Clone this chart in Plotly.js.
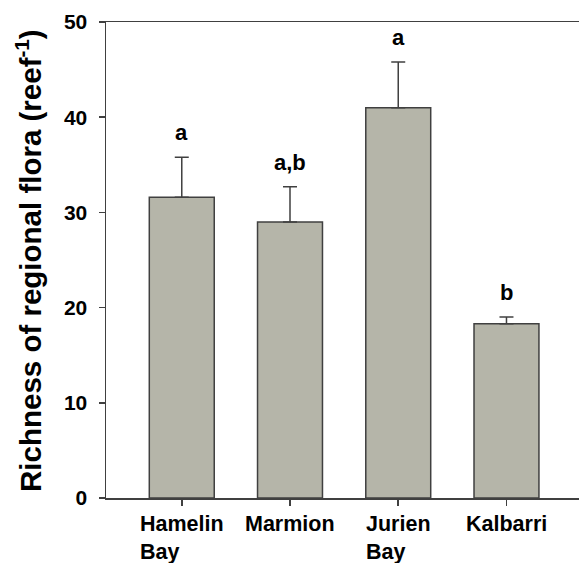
<!DOCTYPE html>
<html>
<head>
<meta charset="utf-8">
<script src="https://cdn.plot.ly/plotly-3.0.1.min.js"></script>
<style>html,body{margin:0;padding:0;background:#fff;}#chart{width:579px;height:563px;}</style>
</head>
<body>
<div id="chart"></div>
<script>
const sites = ["Hamelin<br>Bay", "Marmion", "Jurien<br>Bay", "Kalbarri"];
const richness = [31.6, 29.0, 41.0, 18.3];
const stdErr = [4.2, 3.7, 4.8, 0.7];
const sigLetters = ["a", "a,b", "a", "b"];
const yTicks = [0, 10, 20, 30, 40, 50];
const yTitle = "Richness of regional flora (reef<sup>-1</sup>)";

const dark = "#404040";
const font = "Liberation Sans, Arial, sans-serif";

const trace = {
  type: "bar",
  x: [0, 1, 2, 3],
  y: richness,
  width: 0.6,
  marker: {color: "#b5b5a9", line: {color: dark, width: 1.5}},
  error_y: {type: "data", symmetric: false, array: stdErr, arrayminus: stdErr.map(() => 0),
            color: dark, thickness: 1.5, width: 7},
  hoverinfo: "skip"
};

const annotations = [];
sites.forEach((s, i) => {
  annotations.push({
    x: i, xref: "x", y: 0, yref: "paper", yanchor: "top", xanchor: "center",
    yshift: -12, text: "<b>" + s + "</b>", align: "left", showarrow: false,
    font: {family: font, size: 21.5, color: "#000"}
  });
  annotations.push({
    x: i, xref: "x", y: richness[i] + stdErr[i], yref: "y", yanchor: "bottom", xanchor: "center",
    yshift: 10, text: "<b>" + sigLetters[i] + "</b>", showarrow: false,
    font: {family: font, size: 22, color: "#000"}
  });
});
annotations.push({
  x: -0.165, xref: "paper", y: 0.5, yref: "paper", xanchor: "center", yanchor: "middle",
  textangle: -90, text: "<b>" + yTitle + "</b>", showarrow: false,
  font: {family: font, size: 29.5, color: "#000"}
});

const layout = {
  width: 579, height: 563,
  margin: {l: 106, r: 0, t: 22, b: 65},
  paper_bgcolor: "#fff", plot_bgcolor: "#fff",
  showlegend: false,
  font: {family: font, color: "#000"},
  xaxis: {
    range: [-0.7, 3.67], tickmode: "array", tickvals: [0, 1, 2, 3], showticklabels: false,
    ticks: "outside", ticklen: 6, tickwidth: 1.5, tickcolor: dark,
    showline: true, linecolor: dark, linewidth: 1.5, mirror: true,
    showgrid: false, zeroline: false, fixedrange: true
  },
  yaxis: {
    range: [0, 50], tickmode: "array", tickvals: yTicks, ticktext: yTicks.map(v => "<b>" + v + "</b>"),
    ticks: "outside", ticklen: 6, tickwidth: 1.5, tickcolor: dark, ticklabelstandoff: 7,
    tickfont: {family: font, size: 21, color: "#000"},
    showline: true, linecolor: dark, linewidth: 1.5,
    showgrid: false, zeroline: false, fixedrange: true
  },
  annotations: annotations
};

Plotly.newPlot("chart", [trace], layout, {displayModeBar: false, staticPlot: true});
</script>
</body>
</html>
